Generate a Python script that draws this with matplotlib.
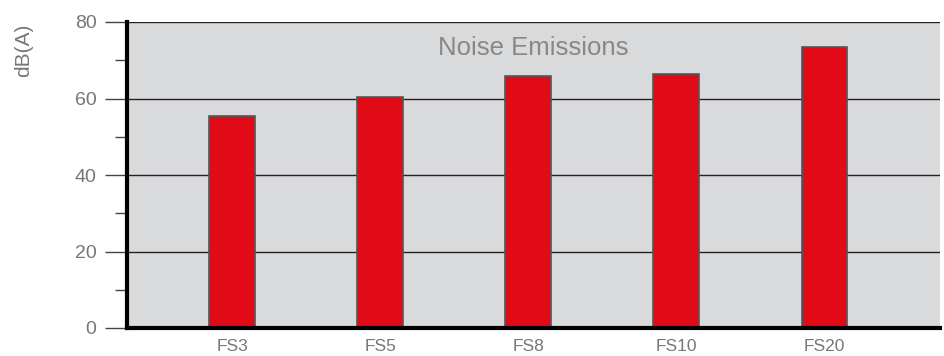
import matplotlib.pyplot as plt
from matplotlib.ticker import MultipleLocator

plt.rcParams['font.family'] = ['Liberation Sans', 'DejaVu Sans']

# data
models = ['FS3', 'FS5', 'FS8', 'FS10', 'FS20']
noise_db = [55.5, 60.4, 65.9, 66.3, 73.5]

grey_txt = '#777777'

fig = plt.figure(figsize=(9.45, 3.56), dpi=100)
ax = fig.add_axes([127 / 945, 1 - 328 / 356, (940 - 127) / 945, (328 - 22) / 356])

ax.set_facecolor('#d9dadc')
ax.bar(range(len(models)), noise_db, width=0.31, color='#e10a17',
       edgecolor='#555555', linewidth=1.2, zorder=3)

ax.set_xlim(-0.71, 4.78)
ax.set_ylim(0, 80)
ax.yaxis.set_major_locator(MultipleLocator(20))
ax.yaxis.set_minor_locator(MultipleLocator(10))
ax.grid(axis='y', which='major', color='#222222', linewidth=1.0, zorder=1)

ax.set_xticks(range(len(models)))
ax.set_xticklabels(models)

for side in ['top', 'right']:
    ax.spines[side].set_visible(False)
ax.spines['left'].set_linewidth(3)
ax.spines['bottom'].set_linewidth(3)
ax.spines['left'].set_zorder(4)
ax.spines['bottom'].set_zorder(4)

ax.tick_params(axis='y', which='major', length=16, width=1, color='#444444',
               labelsize=14, labelcolor=grey_txt, pad=6)
ax.tick_params(axis='y', which='minor', length=9, width=1, color='#444444')
ax.tick_params(axis='x', length=0, labelsize=12.5, labelcolor=grey_txt, pad=8)

ax.text(0.5, 0.955, 'Noise Emissions', transform=ax.transAxes, ha='center',
        va='top', fontsize=18.5, color='#888888')

fig.text(24 / 945, 1 - 50 / 356, 'dB(A)', rotation=90, ha='center', va='center',
         fontsize=15, color=grey_txt)

fig.savefig('out.png', dpi=100)
